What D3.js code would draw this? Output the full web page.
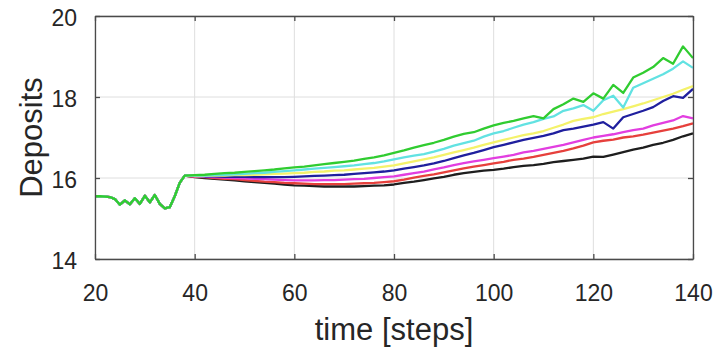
<!DOCTYPE html>
<html>
<head>
<meta charset="utf-8">
<script src="https://cdn.jsdelivr.net/npm/d3@7"></script>
<style>
  html, body { margin: 0; padding: 0; background: #fff; }
  svg { display: block; }
  text { font-family: "Liberation Sans", Arial, sans-serif; fill: #262626; }
</style>
</head>
<body>
<svg id="chart" width="718" height="354"></svg>
<script>
// Warm-up period shared by every run (steps 20..38, one value per step)
const warmupSteps = d3.range(20, 39);
const warmupDeposits = [15.55, 15.55, 15.54, 15.53, 15.48, 15.34, 15.45, 15.35, 15.50, 15.36,
                        15.56, 15.40, 15.58, 15.36, 15.25, 15.28, 15.55, 15.88, 16.06];

// Runs after the warm-up (steps 40..140, every 2 steps)
const runSteps = d3.range(40, 141, 2);

const greenRun = [16.07, 16.08, 16.10, 16.12, 16.13, 16.15, 16.17, 16.19, 16.21, 16.24,
                  16.26, 16.28, 16.31, 16.34, 16.37, 16.40, 16.43, 16.47, 16.51, 16.56,
                  16.62, 16.68, 16.75, 16.81, 16.87, 16.94, 17.02, 17.09, 17.13, 17.22,
                  17.30, 17.36, 17.41, 17.47, 17.53, 17.47, 17.70, 17.82, 17.96, 17.88,
                  18.09, 17.96, 18.30, 18.10, 18.48, 18.60, 18.74, 18.96, 18.82, 19.25,
                  18.96];
const cyanRun = [16.06, 16.06, 16.07, 16.08, 16.09, 16.10, 16.12, 16.13, 16.15, 16.17,
                 16.19, 16.21, 16.23, 16.25, 16.27, 16.29, 16.31, 16.34, 16.37, 16.41,
                 16.46, 16.51, 16.55, 16.59, 16.65, 16.72, 16.80, 16.86, 16.92, 17.02,
                 17.10, 17.16, 17.24, 17.32, 17.38, 17.46, 17.52, 17.66, 17.72, 17.80,
                 17.66, 17.92, 18.03, 17.74, 18.23, 18.34, 18.45, 18.56, 18.70, 18.88,
                 18.72];
const yellowRun = [16.05, 16.05, 16.06, 16.06, 16.07, 16.07, 16.08, 16.09, 16.10, 16.11,
                   16.12, 16.13, 16.15, 16.16, 16.18, 16.19, 16.21, 16.23, 16.25, 16.28,
                   16.31, 16.36, 16.41, 16.46, 16.51, 16.57, 16.63, 16.69, 16.75, 16.82,
                   16.88, 16.94, 17.00, 17.06, 17.10, 17.16, 17.24, 17.32, 17.41, 17.46,
                   17.50, 17.58, 17.64, 17.70, 17.77, 17.84, 17.92, 18.00, 18.08, 18.18,
                   18.27];
const blueRun = [16.05, 16.04, 16.04, 16.03, 16.03, 16.03, 16.02, 16.02, 16.02, 16.02,
                 16.03, 16.04, 16.05, 16.06, 16.07, 16.08, 16.10, 16.12, 16.14, 16.16,
                 16.19, 16.23, 16.27, 16.31, 16.36, 16.42, 16.49, 16.56, 16.62, 16.69,
                 16.76, 16.82, 16.88, 16.94, 16.99, 17.04, 17.10, 17.18, 17.22, 17.27,
                 17.32, 17.38, 17.22, 17.50, 17.58, 17.66, 17.75, 17.90, 18.02, 17.98,
                 18.20];
const magentaRun = [16.04, 16.03, 16.02, 16.01, 16.00, 15.99, 15.98, 15.97, 15.96, 15.95,
                    15.94, 15.94, 15.94, 15.95, 15.95, 15.96, 15.97, 15.98, 16.00, 16.02,
                    16.04, 16.08, 16.12, 16.16, 16.21, 16.26, 16.32, 16.37, 16.41, 16.45,
                    16.49, 16.53, 16.57, 16.63, 16.67, 16.72, 16.77, 16.82, 16.88, 16.94,
                    17.00, 17.04, 17.08, 17.13, 17.18, 17.22, 17.30, 17.36, 17.42, 17.53,
                    17.47];
const redRun = [16.03, 16.02, 16.00, 15.98, 15.97, 15.95, 15.93, 15.91, 15.90, 15.88,
                15.87, 15.86, 15.85, 15.85, 15.85, 15.85, 15.86, 15.87, 15.88, 15.90,
                15.92, 15.96, 16.01, 16.05, 16.09, 16.14, 16.19, 16.24, 16.28, 16.32,
                16.36, 16.40, 16.45, 16.48, 16.52, 16.57, 16.62, 16.67, 16.73, 16.80,
                16.88, 16.92, 16.95, 17.00, 17.03, 17.07, 17.12, 17.17, 17.22, 17.28,
                17.35];
const blackRun = [16.02, 16.00, 15.98, 15.96, 15.94, 15.92, 15.90, 15.88, 15.86, 15.84,
                  15.82, 15.81, 15.80, 15.79, 15.79, 15.79, 15.79, 15.80, 15.81, 15.82,
                  15.84, 15.88, 15.91, 15.95, 15.99, 16.03, 16.08, 16.12, 16.15, 16.18,
                  16.20, 16.23, 16.27, 16.30, 16.32, 16.35, 16.39, 16.42, 16.45, 16.48,
                  16.53, 16.52, 16.58, 16.64, 16.70, 16.75, 16.82, 16.87, 16.94, 17.03,
                  17.10];

const seriesNames = ["black", "red", "magenta", "blue", "yellow", "cyan", "green"];
const seriesRuns = [blackRun, redRun, magentaRun, blueRun, yellowRun, cyanRun, greenRun];
const seriesColors = ["#1e1e1e", "#e6403c", "#e23ee0", "#1f1f9e", "#f4f26a", "#62e2e2", "#30cc30"];

const xTicks = [20, 40, 60, 80, 100, 120, 140];
const yTicks = [14, 16, 18, 20];
const xLabel = "time [steps]";
const yLabel = "Deposits";

const svg = d3.select("#chart");
const m = { left: 95, right: 693, top: 16, bottom: 259 };

const x = d3.scaleLinear().domain([20, 140]).range([m.left, m.right]);
const y = d3.scaleLinear().domain([14, 20]).range([m.bottom, m.top]);

// grid
const grid = svg.append("g");
grid.selectAll("line.gx").data(xTicks).join("line")
  .attr("x1", d => x(d)).attr("x2", d => x(d))
  .attr("y1", m.top).attr("y2", m.bottom)
  .attr("stroke", "#dedede").attr("stroke-width", 1);
grid.selectAll("line.gy").data(yTicks).join("line")
  .attr("x1", m.left).attr("x2", m.right)
  .attr("y1", d => y(d)).attr("y2", d => y(d))
  .attr("stroke", "#dedede").attr("stroke-width", 1);

// lines
const line = d3.line().x(d => x(d[0])).y(d => y(d[1]));
seriesRuns.forEach((run, i) => {
  const pts = warmupSteps.map((s, j) => [s, warmupDeposits[j]])
    .concat(runSteps.map((s, j) => [s, run[j]]));
  svg.append("path")
    .datum(pts)
    .attr("class", "run-" + seriesNames[i])
    .attr("fill", "none")
    .attr("stroke", seriesColors[i])
    .attr("stroke-width", 2.3)
    .attr("stroke-linejoin", "round")
    .attr("d", line);
});

// axes (box with inward ticks)
const axisColor = "#4a4a4a";
const tickLen = 5;
const fmt = d3.format("d");
const bottomAxis = svg.append("g").attr("transform", `translate(0,${m.bottom})`)
  .call(d3.axisBottom(x).tickValues(xTicks).tickFormat(fmt).tickSizeInner(-tickLen).tickSizeOuter(0).tickPadding(26));
const leftAxis = svg.append("g").attr("transform", `translate(${m.left},0)`)
  .call(d3.axisLeft(y).tickValues(yTicks).tickFormat(fmt).tickSizeInner(-tickLen).tickSizeOuter(0).tickPadding(18));
const topAxis = svg.append("g").attr("transform", `translate(0,${m.top})`)
  .call(d3.axisTop(x).tickValues(xTicks).tickSizeInner(-tickLen).tickSizeOuter(0).tickFormat(""));
const rightAxis = svg.append("g").attr("transform", `translate(${m.right},0)`)
  .call(d3.axisRight(y).tickValues(yTicks).tickSizeInner(-tickLen).tickSizeOuter(0).tickFormat(""));

[bottomAxis, leftAxis, topAxis, rightAxis].forEach(g => {
  g.select(".domain").attr("stroke", axisColor).attr("stroke-width", 1.3);
  g.selectAll(".tick line").attr("stroke", axisColor).attr("stroke-width", 1.3);
  g.selectAll(".tick text")
    .attr("fill", "#262626")
    .style("font-family", '"Liberation Sans", Arial, sans-serif')
    .style("font-size", "23px");
});
leftAxis.selectAll(".tick text").attr("dy", "0.42em");

// axis titles
svg.append("text")
  .attr("x", (m.left + m.right) / 2)
  .attr("y", 340)
  .attr("text-anchor", "middle")
  .style("font-size", "31px")
  .text(xLabel);

svg.append("text")
  .attr("transform", `translate(42,${(m.top + m.bottom) / 2}) rotate(-90)`)
  .attr("text-anchor", "middle")
  .style("font-size", "31px")
  .text(yLabel);
</script>
</body>
</html>
